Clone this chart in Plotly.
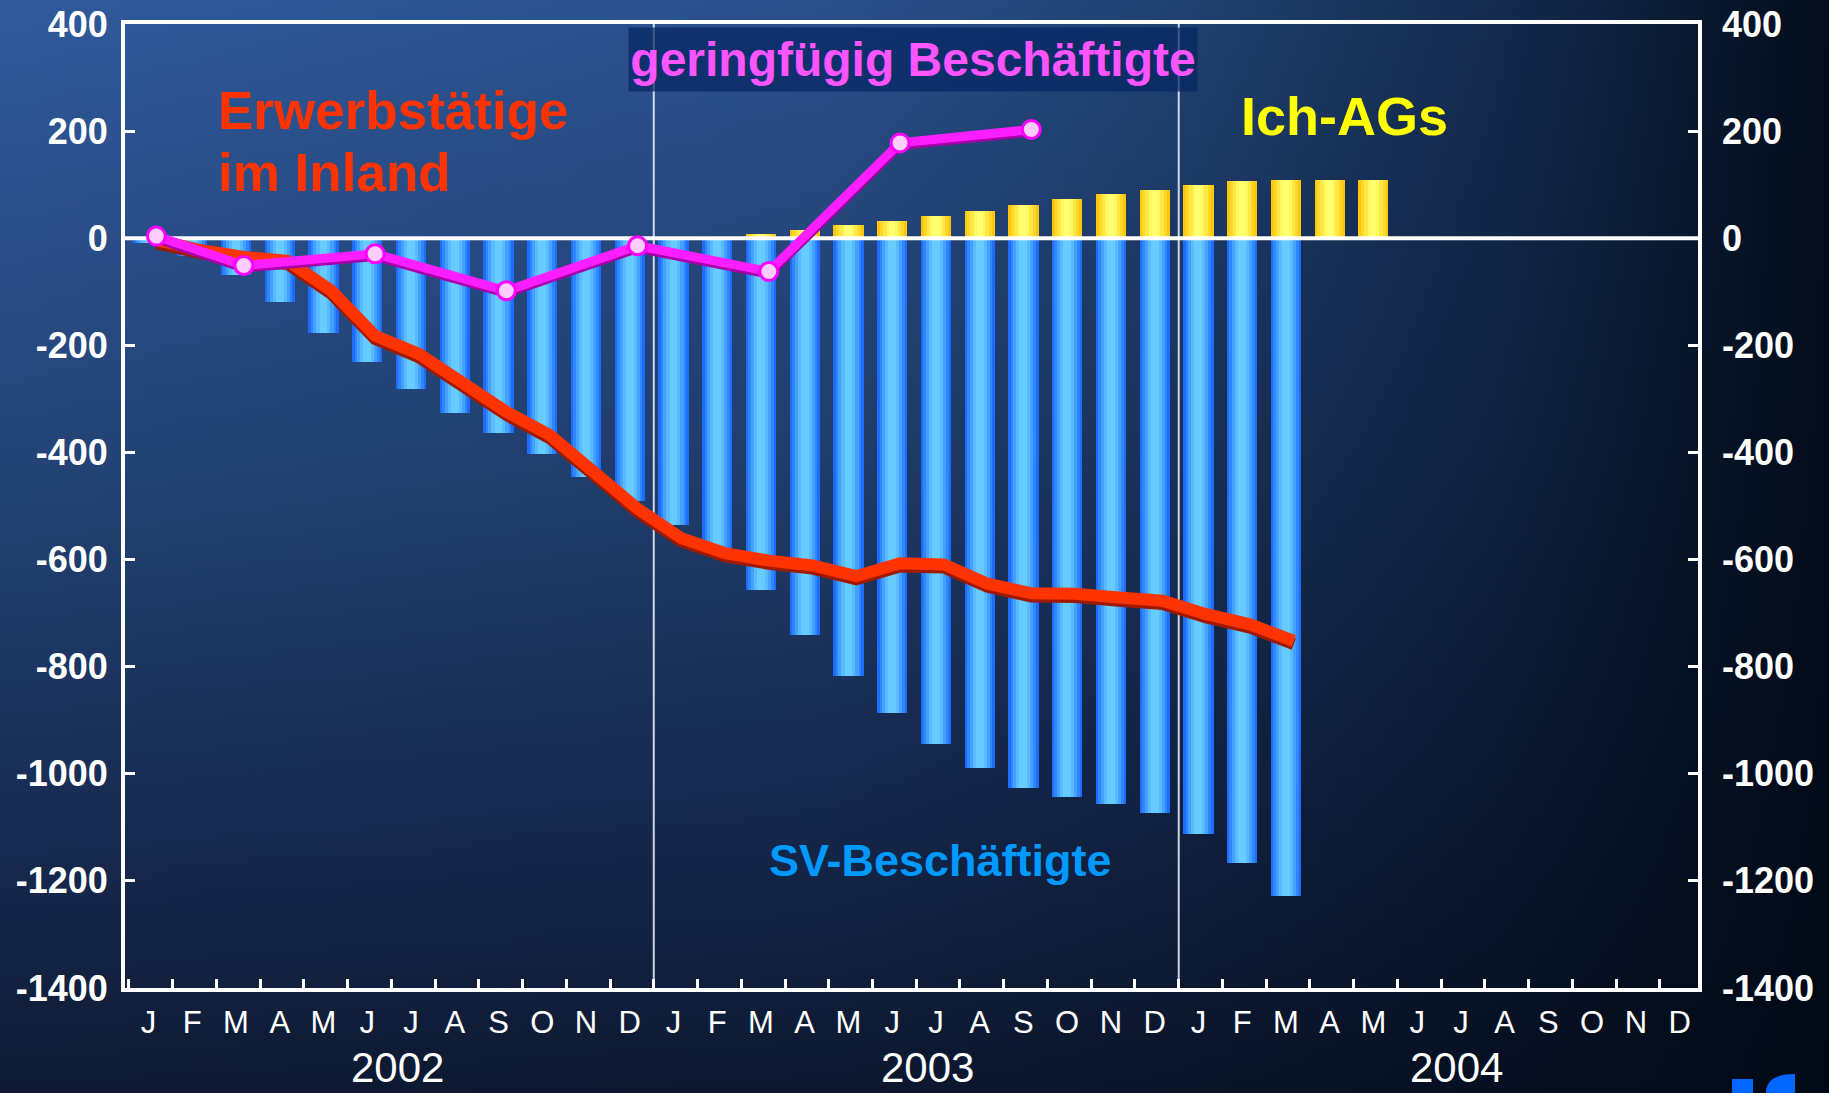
import base64
import plotly.graph_objects as go

# ---------------- data ----------------
MONTH_LETTERS = ["J", "F", "M", "A", "M", "J", "J", "A", "S", "O", "N", "D"]
YEARS = ["2002", "2003", "2004"]
month_labels = MONTH_LETTERS * 3
month_idx = list(range(len(month_labels)))

# SV-Beschäftigte (monthly, Jan 2002 .. Mar 2004), in thousands
sv_beschaeftigte = [-9, -34, -69, -120, -177, -231, -282, -326, -363, -402, -445, -491,
                    -535, -580, -657, -740, -817, -886, -944, -990, -1026, -1044, -1056, -1074,
                    -1113, -1167, -1229]
# Ich-AGs (monthly, Mar 2003 .. May 2004)
ich_ag_first_month = 14
ich_ags = [7, 15, 25, 32, 42, 51, 62, 73, 83, 90, 100, 107, 109, 109, 109]
# Erwerbstätige im Inland (monthly, Jan 2002 .. Mar 2004)
erwerbstaetige = [-3, -22, -35, -42, -98, -182, -216, -268, -324, -368, -439, -505,
                  -560, -588, -602, -611, -631, -607, -609, -645, -663, -664, -671, -677,
                  -702, -721, -752]
# geringfügig Beschäftigte (quarterly points)
gering_months = [0, 2, 5, 8, 11, 14, 17, 20]
gering = [4, -51, -29, -98, -14, -62, 178, 203]

Y_TICKS = list(range(-1400, 401, 200))
Y_TICKTEXT = [str(v) for v in Y_TICKS]

# ---------------- geometry / style ----------------
W, H = 1829, 1093
ML, MR, MT, MB = 125, 131, 24, 105
PW, PH = W - ML - MR, H - MT - MB
X_MIN, X_MAX = -0.537, 35.42
Y_MIN, Y_MAX = -1400, 400
LINE_SHIFT = 0.18
TICK0 = 0.55
FONT = "Liberation Sans, Arial, Helvetica, sans-serif"


def px_to_paper_x(px):
    return (px - ML) / PW


def px_to_paper_y(py):
    return (MT + PH - py) / PH


fig = go.Figure()

# cylinder-like bars: stacked overlay layers of decreasing width
blue_layers = [(0.69, "#1E6BFF"), (0.58, "#2F86FF"), (0.46, "#44A2FF"), (0.32, "#58BBFF"), (0.18, "#66CCFF")]
yellow_layers = [(0.69, "#FFC60A"), (0.56, "#FFD62A"), (0.42, "#FFE844"), (0.26, "#FFF860"), (0.14, "#FFFF70")]

sv_x = month_idx[:len(sv_beschaeftigte)]
ich_x = month_idx[ich_ag_first_month:ich_ag_first_month + len(ich_ags)]

for w, c in blue_layers:
    fig.add_trace(go.Bar(x=sv_x, y=sv_beschaeftigte, width=w, marker=dict(color=c, line=dict(width=0)),
                         hoverinfo="skip", showlegend=False, yaxis="y"))
for w, c in yellow_layers:
    fig.add_trace(go.Bar(x=ich_x, y=ich_ags, width=w, marker=dict(color=c, line=dict(width=0)),
                         hoverinfo="skip", showlegend=False, yaxis="y"))

# zero line above the bars
fig.add_trace(go.Scatter(x=[X_MIN, X_MAX], y=[0, 0], mode="lines",
                         line=dict(color="white", width=4), hoverinfo="skip",
                         showlegend=False, yaxis="y2"))

# Erwerbstätige line (with darker lower edge)
erw_x = [i + LINE_SHIFT for i in month_idx[:len(erwerbstaetige)]]
fig.add_trace(go.Scatter(x=erw_x, y=[v - 6 for v in erwerbstaetige], mode="lines",
                         line=dict(color="#A01A00", width=12), hoverinfo="skip",
                         showlegend=False, yaxis="y2"))
fig.add_trace(go.Scatter(x=erw_x, y=erwerbstaetige, mode="lines",
                         line=dict(color="#FF3300", width=12), hoverinfo="skip",
                         showlegend=False, yaxis="y2"))

# geringfügig Beschäftigte line
ger_x = [m + LINE_SHIFT for m in gering_months]
fig.add_trace(go.Scatter(x=ger_x, y=[v - 5 for v in gering], mode="lines",
                         line=dict(color="#A800A8", width=9), hoverinfo="skip",
                         showlegend=False, yaxis="y2"))
fig.add_trace(go.Scatter(x=ger_x, y=gering, mode="lines+markers",
                         line=dict(color="#FF1EFF", width=9),
                         marker=dict(size=18, color="#FFCCFF", line=dict(color="#FF00FF", width=3)),
                         hoverinfo="skip", showlegend=False, yaxis="y2"))

# ---------------- background gradient ----------------
svg = f'''<svg xmlns="http://www.w3.org/2000/svg" width="{W}" height="{H}" viewBox="0 0 {W} {H}" preserveAspectRatio="none">
<defs>
<linearGradient id="v" x1="0" y1="0" x2="0" y2="1">
<stop offset="0" stop-color="#2F5A9C"/>
<stop offset="0.4" stop-color="#244579"/>
<stop offset="0.7" stop-color="#192F58"/>
<stop offset="1" stop-color="#0E1A33"/>
</linearGradient>
<linearGradient id="h" x1="0" y1="0" x2="1" y2="0">
<stop offset="0" stop-color="#000814" stop-opacity="0"/>
<stop offset="0.45" stop-color="#000814" stop-opacity="0.12"/>
<stop offset="0.65" stop-color="#000814" stop-opacity="0.32"/>
<stop offset="0.82" stop-color="#000814" stop-opacity="0.58"/>
<stop offset="0.93" stop-color="#000814" stop-opacity="0.80"/>
<stop offset="1" stop-color="#000814" stop-opacity="0.94"/>
</linearGradient>
</defs>
<rect width="{W}" height="{H}" fill="url(#v)"/>
<rect width="{W}" height="{H}" fill="url(#h)"/>
</svg>'''
bg_src = "data:image/svg+xml;base64," + base64.b64encode(svg.encode()).decode()

# ---------------- shapes ----------------
shapes = []
for k in (1, 2):
    xd = TICK0 - 1 + 12 * k
    shapes.append(dict(type="line", xref="x", yref="y", x0=xd, x1=xd, y0=Y_MIN, y1=Y_MAX,
                       line=dict(color="rgba(225,232,245,0.9)", width=2), layer="below"))
# partial logo at the bottom right corner
shapes.append(dict(type="rect", xref="paper", yref="paper",
                   x0=px_to_paper_x(1732), x1=px_to_paper_x(1753),
                   y0=px_to_paper_y(1093), y1=px_to_paper_y(1079),
                   fillcolor="#0066FF", line=dict(width=0), layer="above"))
p = lambda a, b: f"{px_to_paper_x(a)},{px_to_paper_y(b)}"
shapes.append(dict(type="path", xref="paper", yref="paper",
                   path=f"M {p(1766, 1093)} Q {p(1766, 1074)} {p(1795, 1074)} L {p(1795, 1093)} Z",
                   fillcolor="#0066FF", line=dict(width=0), layer="above"))

# ---------------- annotations ----------------
ann = []
ann.append(dict(text="<b>Erwerbstätige</b>", x=1.54, y=238, xref="x", yref="y2",
                xanchor="left", yanchor="middle", showarrow=False,
                font=dict(family=FONT, size=53, color="#FF3300")))
ann.append(dict(text="<b>im Inland</b>", x=1.54, y=123, xref="x", yref="y2",
                xanchor="left", yanchor="middle", showarrow=False,
                font=dict(family=FONT, size=53, color="#FF3300")))
ann.append(dict(text="<b>geringfügig Beschäftigte</b>", x=17.47, y=334, xref="x", yref="y2",
                xanchor="center", yanchor="middle", showarrow=False, width=566, height=61,
                bgcolor="rgba(6,38,98,0.72)",
                font=dict(family=FONT, size=48, color="#FF55FF")))
ann.append(dict(text="<b>Ich-AGs</b>", x=27.33, y=228, xref="x", yref="y2",
                xanchor="center", yanchor="middle", showarrow=False,
                font=dict(family=FONT, size=54, color="#FFFF00")))
ann.append(dict(text="<b>SV-Beschäftigte</b>", x=18.11, y=-1161, xref="x", yref="y2",
                xanchor="center", yanchor="middle", showarrow=False,
                font=dict(family=FONT, size=45, color="#0099FF")))
for k, yr in enumerate(YEARS):
    ann.append(dict(text=yr, x=5.7 + 12.1 * k, y=px_to_paper_y(1092), xref="x", yref="paper",
                    xanchor="center", yanchor="bottom", showarrow=False, borderpad=0,
                    font=dict(family=FONT, size=42, color="white")))

tickfont_y = dict(family=FONT, size=36, color="white", weight="bold")

fig.update_layout(
    width=W, height=H,
    margin=dict(l=ML, r=MR, t=MT, b=MB, pad=0, autoexpand=False),
    paper_bgcolor="#0E1A33",
    plot_bgcolor="rgba(0,0,0,0)",
    barmode="overlay",
    bargap=0,
    showlegend=False,
    images=[dict(source=bg_src, xref="paper", yref="paper",
                 x=px_to_paper_x(0), y=px_to_paper_y(0),
                 sizex=W / PW, sizey=H / PH, sizing="stretch",
                 xanchor="left", yanchor="top", layer="below")],
    shapes=shapes,
    annotations=ann,
    xaxis=dict(range=[X_MIN, X_MAX], tickmode="array", tickvals=month_idx, ticktext=month_labels,
               ticks="", tickfont=dict(family=FONT, size=31, color="white"),
               ticklabelstandoff=4, automargin=False,
               showline=True, linecolor="white", linewidth=4, mirror=True,
               showgrid=False, zeroline=False,
               minor=dict(ticks="inside", tickmode="array",
                          tickvals=[TICK0 + i for i in range(-1, 36)],
                          ticklen=9, tickwidth=3, tickcolor="white", showgrid=False)),
    yaxis=dict(range=[Y_MIN, Y_MAX], tickmode="array", tickvals=Y_TICKS, ticktext=Y_TICKTEXT,
               ticks="inside", ticklen=10, tickwidth=3, tickcolor="white",
               tickfont=tickfont_y, ticklabelstandoff=6, automargin=False,
               showline=True, linecolor="white", linewidth=4, mirror=True,
               showgrid=False, zeroline=False),
    yaxis2=dict(range=[Y_MIN, Y_MAX], overlaying="y", side="right", tickmode="array",
                tickvals=Y_TICKS, ticktext=Y_TICKTEXT,
                ticks="inside", ticklen=10, tickwidth=3, tickcolor="white",
                tickfont=tickfont_y, ticklabelstandoff=23, automargin=False,
                showline=False, showgrid=False, zeroline=False),
)

fig.write_html("out.html", config={"displayModeBar": False},
               post_script="document.body.style.margin='0';document.body.style.overflow='hidden';")
